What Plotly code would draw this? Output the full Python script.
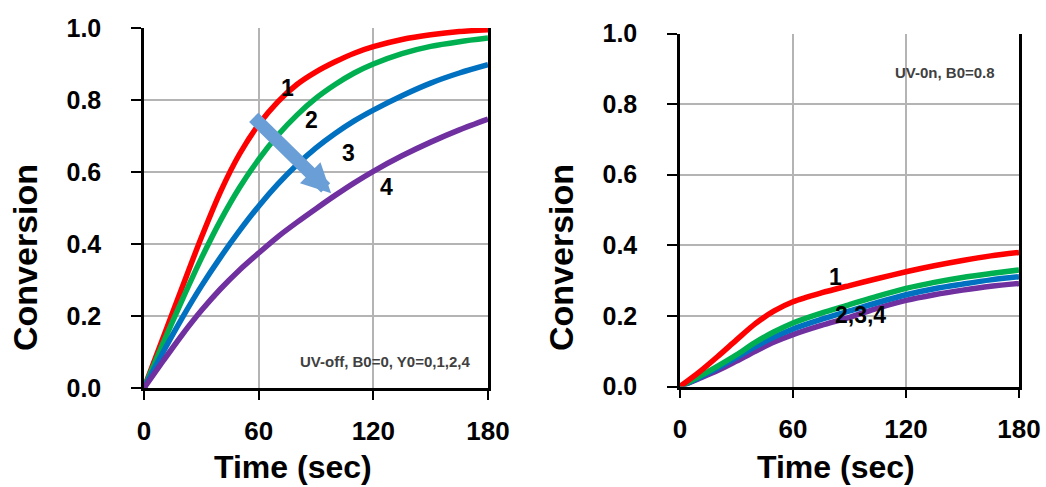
import plotly.graph_objects as go

# ---- data ----
time_left = [0, 10, 20, 30, 40, 50, 60, 70, 80, 90, 100, 110, 120, 135, 150, 165, 180]
left_1 = [0, 0.14, 0.28, 0.418, 0.545, 0.65, 0.732, 0.795, 0.843, 0.878, 0.906, 0.93, 0.948, 0.968, 0.981, 0.99, 0.995]
left_2 = [0, 0.125, 0.245, 0.36, 0.465, 0.557, 0.635, 0.702, 0.758, 0.805, 0.843, 0.875, 0.90, 0.929, 0.949, 0.962, 0.972]
left_3 = [0, 0.10, 0.195, 0.283, 0.363, 0.437, 0.505, 0.566, 0.62, 0.667, 0.707, 0.742, 0.772, 0.812, 0.847, 0.875, 0.898]
left_4 = [0, 0.075, 0.148, 0.215, 0.275, 0.328, 0.375, 0.42, 0.46, 0.498, 0.535, 0.57, 0.602, 0.645, 0.683, 0.717, 0.747]

time_right = [0, 10, 20, 30, 40, 50, 60, 75, 90, 105, 120, 135, 150, 165, 180]
right_1 = [0, 0.04, 0.085, 0.132, 0.178, 0.214, 0.24, 0.265, 0.286, 0.306, 0.325, 0.342, 0.357, 0.37, 0.38]
right_2 = [0, 0.028, 0.058, 0.09, 0.125, 0.155, 0.18, 0.208, 0.232, 0.256, 0.278, 0.295, 0.309, 0.32, 0.33]
right_3 = [0, 0.025, 0.052, 0.082, 0.113, 0.14, 0.163, 0.19, 0.214, 0.238, 0.26, 0.277, 0.29, 0.302, 0.311]
right_4 = [0, 0.022, 0.045, 0.072, 0.10, 0.126, 0.147, 0.173, 0.196, 0.222, 0.244, 0.26, 0.273, 0.284, 0.292]

series_colors = ["#ff0000", "#00b050", "#0070c0", "#7030a0"]
x_ticks = [0, 60, 120, 180]
x_tick_labels = ["0", "60", "120", "180"]
y_ticks = [0.0, 0.2, 0.4, 0.6, 0.8, 1.0]
y_tick_labels = ["0.0", "0.2", "0.4", "0.6", "0.8", "1.0"]

left_labels = ["1", "2", "3", "4"]
left_label_x = [75.3, 87.8, 107.1, 127.1]
left_label_y = [0.833, 0.744, 0.652, 0.559]
right_labels = ["1", "2,3,4"]
right_label_x = [82.3, 95.6]
right_label_y = [0.311, 0.202]

W, H = 1046, 487
FONT = "Liberation Sans, Arial, sans-serif"

fig = go.Figure()
for ys, c in zip([left_1, left_2, left_3, left_4], series_colors):
    fig.add_trace(go.Scatter(x=time_left, y=ys, mode="lines", xaxis="x", yaxis="y",
                             line=dict(color=c, width=5.5, shape="spline", smoothing=0.8),
                             showlegend=False, hoverinfo="skip"))
for ys, c in zip([right_4, right_3, right_2, right_1], series_colors[::-1]):
    fig.add_trace(go.Scatter(x=time_right, y=ys, mode="lines", xaxis="x2", yaxis="y2",
                             line=dict(color=c, width=5.5, shape="spline", smoothing=0.8),
                             showlegend=False, hoverinfo="skip"))

def px_x(p):
    return p / W

def px_y(p):
    return 1 - p / H

xtickfont = dict(family=FONT, size=26, color="black", weight="bold")
ytickfont = dict(family=FONT, size=25, color="black", weight="bold")
xaxis_common = dict(range=[0, 180], tickvals=x_ticks, ticktext=x_tick_labels,
                    showgrid=True, gridcolor="#b4b4b4", gridwidth=2,
                    showline=True, linecolor="black", linewidth=2.5,
                    ticks="outside", ticklen=9, tickwidth=2, tickcolor="black",
                    tickfont=xtickfont, ticklabelstandoff=9, zeroline=False,
                    fixedrange=True, automargin=False)
yaxis_common = dict(range=[0, 1], tickvals=y_ticks, ticktext=y_tick_labels,
                    showgrid=True, gridcolor="#b4b4b4", gridwidth=2,
                    showline=True, linecolor="black", linewidth=2.5, mirror=True,
                    ticks="outside", ticklen=10, tickwidth=2, tickcolor="black",
                    tickfont=ytickfont, ticklabelstandoff=25, zeroline=False,
                    fixedrange=True, automargin=False)

fig.update_layout(
    width=W, height=H,
    margin=dict(l=0, r=0, t=0, b=0, autoexpand=False),
    paper_bgcolor="white", plot_bgcolor="white",
    xaxis=dict(domain=[px_x(144), px_x(488)], anchor="y", **xaxis_common),
    yaxis=dict(domain=[px_y(388), px_y(28)], anchor="x", **yaxis_common),
    xaxis2=dict(domain=[px_x(680), px_x(1019)], anchor="y2", **xaxis_common),
    yaxis2=dict(domain=[px_y(386.5), px_y(33.5)], anchor="x2", **yaxis_common),
)

ytitle_font = dict(family=FONT, size=34, color="black", weight="bold")
xtitle_font = dict(family=FONT, size=32, color="black", weight="bold")
note_font = dict(family=FONT, size=15, color="#404040", weight="bold")
annotations = [
    dict(text="Conversion", x=px_x(25), y=px_y(258), xref="paper", yref="paper",
         textangle=-90, showarrow=False, font=ytitle_font, xanchor="center", yanchor="middle"),
    dict(text="Conversion", x=px_x(561), y=px_y(258), xref="paper", yref="paper",
         textangle=-90, showarrow=False, font=ytitle_font, xanchor="center", yanchor="middle"),
    dict(text="Time (sec)", x=px_x(293), y=px_y(467), xref="paper", yref="paper",
         showarrow=False, font=xtitle_font, xanchor="center", yanchor="middle"),
    dict(text="Time (sec)", x=px_x(836), y=px_y(467), xref="paper", yref="paper",
         showarrow=False, font=xtitle_font, xanchor="center", yanchor="middle"),
    dict(text="UV-off, B0=0, Y0=0,1,2,4", x=171.5, y=0.073, xref="x", yref="y",
         showarrow=False, xanchor="right", yanchor="middle", font=note_font),
    dict(text="UV-0n, B0=0.8", x=168.5, y=0.89, xref="x2", yref="y2",
         showarrow=False, xanchor="right", yanchor="middle", font=note_font),
    # big arrow
    dict(x=97.9, y=0.541, ax=56.6, ay=0.756, xref="x", yref="y", axref="x", ayref="y",
         showarrow=True, arrowhead=2, arrowwidth=13, arrowsize=0.45, arrowcolor="#6a9ed6",
         text=""),
]
for t, xx, yy in zip(left_labels, left_label_x, left_label_y):
    annotations.append(dict(text=t, x=xx, y=yy, xref="x", yref="y", showarrow=False,
                            font=dict(family=FONT, size=23, color="black", weight="bold")))
for t, xx, yy in zip(right_labels, right_label_x, right_label_y):
    annotations.append(dict(text=t, x=xx, y=yy, xref="x2", yref="y2", showarrow=False,
                            font=dict(family=FONT, size=23, color="black", weight="bold")))
fig.update_layout(annotations=annotations)

fig.write_html("out.html")
